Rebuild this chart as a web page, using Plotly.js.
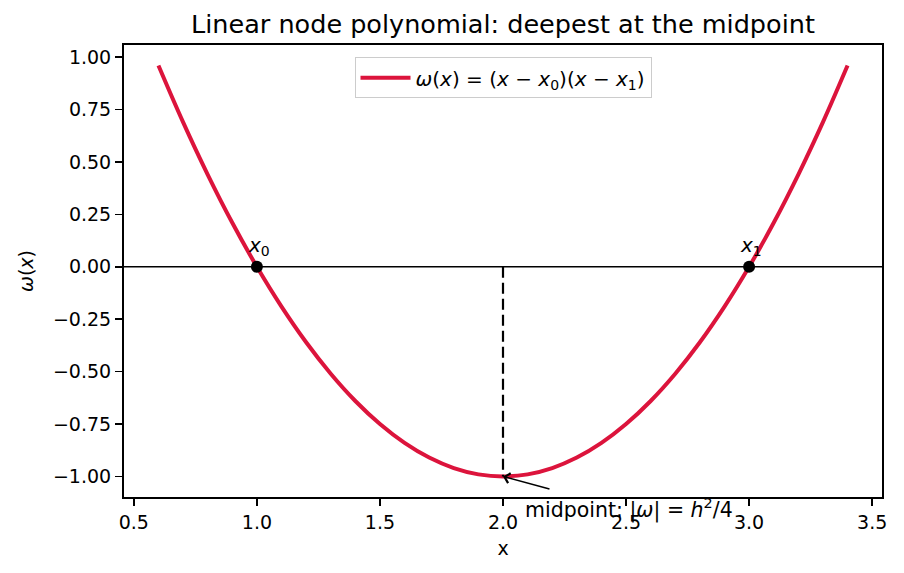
<!DOCTYPE html>
<html>
<head>
<meta charset="utf-8">
<script src="https://cdn.plot.ly/plotly-3.0.1.min.js"></script>
<style>
  html, body { margin: 0; padding: 0; background: #ffffff; }
  #chart { width: 904px; height: 573px; }
</style>
</head>
<body>
<div id="chart"></div>
<script>
// Sampled values of the node polynomial omega(x) = (x - x0)(x - x1)
const xs = [0.6, 0.7, 0.8, 0.9, 1.0, 1.1, 1.2, 1.3, 1.4, 1.5, 1.6, 1.7, 1.8, 1.9, 2.0,
            2.1, 2.2, 2.3, 2.4, 2.5, 2.6, 2.7, 2.8, 2.9, 3.0, 3.1, 3.2, 3.3, 3.4];
const omega = [0.96, 0.69, 0.44, 0.21, 0.00, -0.19, -0.36, -0.51, -0.64, -0.75, -0.84, -0.91, -0.96, -0.99, -1.00,
               -0.99, -0.96, -0.91, -0.84, -0.75, -0.64, -0.51, -0.36, -0.19, 0.00, 0.21, 0.44, 0.69, 0.96];

// Interpolation nodes
const nodeX = [1.0, 3.0];
const nodeY = [0.0, 0.0];
const nodeLabels = ['<i>x</i><sub>0</sub>', '<i>x</i><sub>1</sub>'];

// Midpoint where |omega| is largest
const midX = [2.0, 2.0];
const midY = [0.0, -1.0];
const midLabel = 'midpoint: |<i>ω</i>| = <i>h</i><sup>2</sup>/4';
const midLabelX = 2.08;
const midArrowTail = [2.195, -1.062];

const yTicks = [-1.0, -0.75, -0.5, -0.25, 0.0, 0.25, 0.5, 0.75, 1.0];
const yTickText = ['−1.00', '−0.75', '−0.50', '−0.25', '0.00', '0.25', '0.50', '0.75', '1.00'];
const xTicks = [0.5, 1.0, 1.5, 2.0, 2.5, 3.0, 3.5];
const xTickText = ['0.5', '1.0', '1.5', '2.0', '2.5', '3.0', '3.5'];

const FONT = 'DejaVu Sans, sans-serif';

const traces = [
  {
    x: xs, y: omega, type: 'scatter', mode: 'lines',
    name: '<i>ω</i>(<i>x</i>) = (<i>x</i> − <i>x</i><sub>0</sub>)(<i>x</i> − <i>x</i><sub>1</sub>)',
    line: { color: '#DC143C', width: 4, shape: 'spline', smoothing: 1 },
    showlegend: true
  },
  {
    x: midX, y: midY, type: 'scatter', mode: 'lines',
    line: { color: '#000000', width: 2.2, dash: '11px,5px' },
    showlegend: false, hoverinfo: 'skip'
  },
  {
    x: nodeX, y: nodeY, type: 'scatter', mode: 'markers',
    marker: { color: '#000000', size: 12 },
    showlegend: false
  }
];

const annotations = nodeX.map((x, i) => ({
  x: x, y: nodeY[i], xref: 'x', yref: 'y',
  text: nodeLabels[i], showarrow: false,
  xanchor: 'center', yanchor: 'bottom', yshift: 6, xshift: 2,
  font: { family: FONT, size: 20, color: '#000000' }
}));

annotations.push({
  x: midX[1], y: midY[1], xref: 'x', yref: 'y',
  ax: midArrowTail[0], ay: midArrowTail[1], axref: 'x', ayref: 'y',
  text: '', showarrow: true, arrowhead: 4, arrowsize: 1.3, arrowwidth: 1.5,
  arrowcolor: '#000000', standoff: 0, startstandoff: 0
});
// label sits below the curve's minimum, offset in pixels
annotations.push({
  x: midLabelX, y: midY[1], xref: 'x', yref: 'y',
  text: midLabel, showarrow: false, xanchor: 'left', yanchor: 'middle',
  yshift: -33,
  font: { family: FONT, size: 20.5, color: '#000000' }
});

const axisCommon = {
  showgrid: false, zeroline: false,
  showline: true, mirror: true, linecolor: '#000000', linewidth: 2,
  ticks: 'outside', ticklen: 7, tickwidth: 1.5, tickcolor: '#000000',
  tickfont: { family: FONT, size: 19, color: '#000000' }
};

const layout = {
  width: 904, height: 573,
  paper_bgcolor: '#ffffff', plot_bgcolor: '#ffffff',
  margin: { l: 124, r: 22, t: 45, b: 76 },
  title: {
    text: 'Linear node polynomial: deepest at the midpoint',
    font: { family: FONT, size: 25.5, color: '#000000' },
    x: 0.5, xref: 'paper', xanchor: 'center',
    y: 1 - 24 / 573, yref: 'container', yanchor: 'middle'
  },
  xaxis: Object.assign({}, axisCommon, {
    range: [0.46, 3.54], tickvals: xTicks, ticktext: xTickText,
    title: { text: 'x', font: { family: FONT, size: 19, color: '#000000' }, standoff: 10 }
  }),
  yaxis: Object.assign({}, axisCommon, {
    range: [-1.098, 1.058], tickvals: yTicks, ticktext: yTickText,
    title: { text: '<i>ω</i>(<i>x</i>)', font: { family: FONT, size: 19, color: '#000000' }, standoff: 14 }
  }),
  legend: {
    x: 0.5, xanchor: 'center', y: 0.973, yanchor: 'top',
    bgcolor: 'rgba(255,255,255,0.8)', bordercolor: '#cccccc', borderwidth: 1,
    font: { family: FONT, size: 20, color: '#000000' },
    itemwidth: 50
  },
  shapes: [{
    type: 'line', xref: 'paper', x0: 0, x1: 1, yref: 'y', y0: 0, y1: 0,
    line: { color: '#000000', width: 1.5 }, layer: 'below'
  }],
  annotations: annotations,
  showlegend: true
};

Plotly.newPlot('chart', traces, layout, { displayModeBar: false, staticPlot: true });
</script>
</body>
</html>
